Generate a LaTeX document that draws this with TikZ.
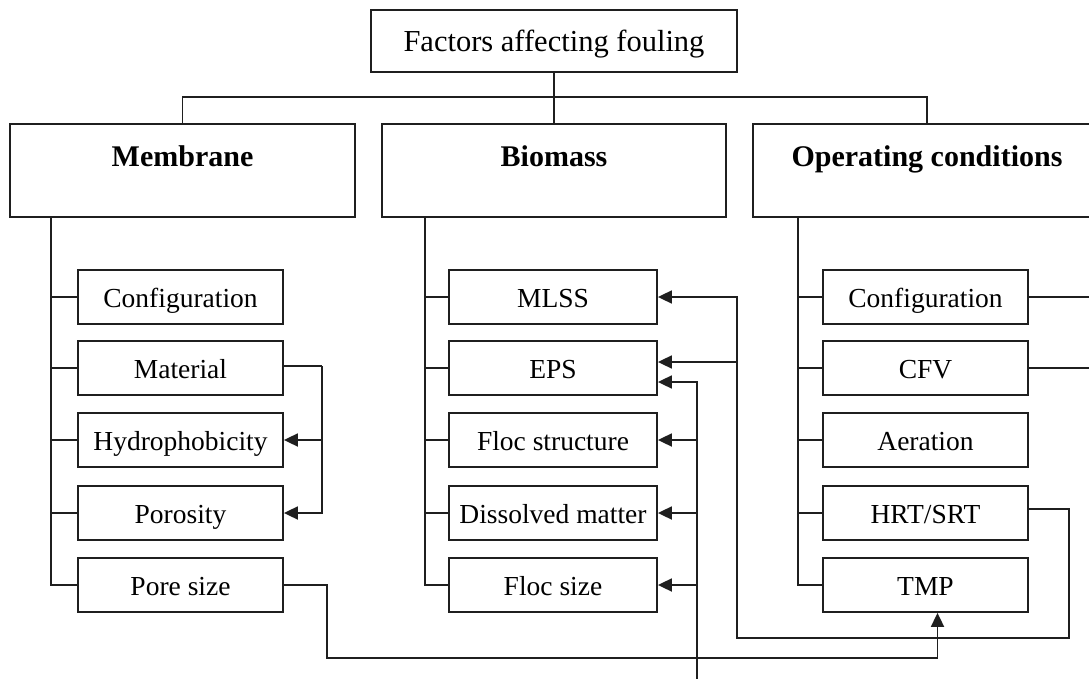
\documentclass[tikz,border=0pt]{standalone}
\usepackage{fontspec}
\setmainfont{Liberation Serif}
\usetikzlibrary{arrows.meta}
\begin{document}
\begin{tikzpicture}[x=1pt,y=-1pt,
  box/.style={draw=black!88,line width=1.8pt,inner sep=0pt,font=\fontsize{27.5}{30}\selectfont},
  sub/.style={box,minimum width=205pt,minimum height=54pt,text height=20pt,text depth=0pt},
  subw/.style={box,minimum width=208pt,minimum height=54pt,text height=20pt,text depth=0pt},
  mainbox/.style={box,minimum height=93pt},
  head/.style={inner sep=0pt,font=\fontsize{30}{34}\selectfont\bfseries},
  ln/.style={draw=black!88,line width=1.8pt},
  spine/.style={draw=black!88,line width=2.6pt},
  arr/.style={ln,-{Triangle[length=14pt,width=13pt]}}]
\clip (0,0) rectangle (1089,679);
\fill[white] (0,0) rectangle (1089,679);
% top
\node[box,minimum width=366pt,minimum height=62pt,font=\fontsize{30.5}{34}\selectfont,text height=21pt,text depth=0pt] (top) at (554,41) {Factors affecting fouling};
% main boxes
\node[mainbox,minimum width=345pt] (mem) at (182.5,170.5) {};
\node[mainbox,minimum width=344pt] (bio) at (554,170.5) {};
\node[mainbox,minimum width=348pt] (op) at (927,170.5) {};
\node[head,text height=21pt,text depth=0pt] (memt) at (182.5,156) {Membrane};
\node[head,text height=21pt,text depth=0pt] (biot) at (554,156) {Biomass};
\node[head,text height=21pt,text depth=0pt] (opt) at (927,156) {Operating conditions};
\coordinate (bus) at (0,97);
\draw[ln] (top.south) -- (top.south |- bio.north);
\draw[ln] (mem.north) -- (mem.north |- bus) -- (op.north |- bus) -- (op.north);
% membrane subs
\node[sub] (m1) at (180.5,297) {Configuration};
\node[sub] (m2) at (180.5,368) {Material};
\node[sub] (m3) at (180.5,440) {Hydrophobicity};
\node[sub] (m4) at (180.5,513) {Porosity};
\node[sub] (m5) at (180.5,585) {Pore size};
% biomass subs
\node[subw] (b1) at (553,297) {MLSS};
\node[subw] (b2) at (553,368) {EPS};
\node[subw] (b3) at (553,440) {Floc structure};
\node[subw] (b4) at (553,513) {Dissolved matter};
\node[subw] (b5) at (553,585) {Floc size};
% operating subs
\node[sub] (o1) at (925.5,297) {Configuration};
\node[sub] (o2) at (925.5,368) {CFV};
\node[sub] (o3) at (925.5,440) {Aeration};
\node[sub] (o4) at (925.5,513) {HRT/SRT};
\node[sub] (o5) at (925.5,585) {TMP};
% spines
\coordinate (ms) at (51,217);
\coordinate (bs) at (425,217);
\coordinate (os) at (798,217);
\draw[spine] (ms) |- (m5.west);
\draw[spine] (bs) |- (b5.west);
\draw[spine] (os) |- (o5.west);
\foreach \i in {1,2,3,4}{
  \draw[ln] (ms |- m\i.west) -- (m\i.west);
  \draw[ln] (bs |- b\i.west) -- (b\i.west);
  \draw[ln] (os |- o\i.west) -- (o\i.west);
}
% material -> hydrophobicity, porosity
\coordinate (c1) at (322,366);
\draw[ln] (m2.east |- c1) -- (c1);
\draw[arr] (c1) |- (m4.east);
\draw[arr] (c1 |- m3.east) -- (m3.east);
% pore size -> TMP
\coordinate (c2) at (327,658);
\draw[arr] (m5.east) -| (c2) -| ([xshift=12pt]o5.south);
% HRT/SRT -> MLSS, EPS
\coordinate (hr) at (1069,638);
\coordinate (hl) at (737,638);
\draw[arr] (o4.east |- 0,509) -| (hr) -- (hl) |- (b1.east);
\coordinate (e1) at (737,362);
\draw[arr] (e1) -- (e1 -| b2.east);
% external -> biomass
\coordinate (ext) at (697,679);
\coordinate (e2) at (697,382);
\draw[arr] (ext) -- (e2) -- (e2 -| b2.east);
\draw[arr] (ext |- b3.east) -- (b3.east);
\draw[arr] (ext |- b4.east) -- (b4.east);
\draw[arr] (ext |- b5.east) -- (b5.east);
% operating config, CFV -> right edge
\coordinate (edge) at (1089,0);
\draw[ln] (o1.east) -- (o1.east -| edge);
\draw[ln] (o2.east) -- (o2.east -| edge);
\end{tikzpicture}
\end{document}
